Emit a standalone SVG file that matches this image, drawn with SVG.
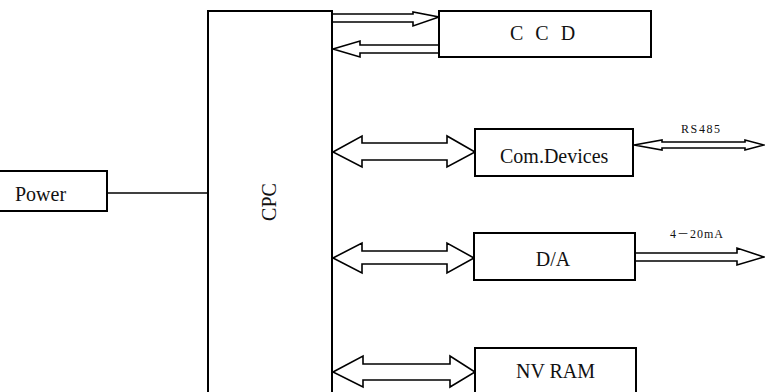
<svg xmlns="http://www.w3.org/2000/svg" width="765" height="392" viewBox="0 0 765 392">
<style>
.box{fill:#fff;stroke:#000;stroke-width:2}
.arr{fill:#fff;stroke:#000;stroke-width:1.6;stroke-linejoin:miter}
.ln{fill:none;stroke:#000;stroke-width:1.6}
.t{font-family:"Liberation Serif","Times New Roman",serif;font-size:20px;fill:#111}
.s{font-family:"Liberation Serif","Noto Sans CJK SC",serif;font-size:12px;fill:#111}
</style>
<rect width="765" height="392" fill="#fff"/>
<g id="connectors">
<line class="ln" x1="107" y1="193" x2="208" y2="193"/>
<path class="arr" d="M332,14 H413 V12 L439,17 L413,26 V22 H332"/>
<path class="arr" d="M439,45 H360 V41 L333,49 L360,57 V53 H439"/>
<path class="arr" d="M333,152 L362,136 V143 H447 V136 L475,152 L447,167 V160 H362 V167 Z"/>
<path class="arr" d="M333,258 L362,243 V251 H447 V243 L474,258 L447,273 V264 H362 V273 Z"/>
<path class="arr" d="M333,372 L363,356 V364 H450 V356 L475,372 L450,387 V380 H363 V387 Z"/>
<path class="arr" d="M634,145 L662,140 V142 H745 V140 L764,145 L745,150 V148 H662 V150 Z"/>
<path class="arr" d="M635,253 H737 V248 L764,257 L737,265 V261 H635"/>
<text class="s" x="681" y="133" font-size="12.5" letter-spacing="1.6">RS485</text>
<text class="s" x="670" y="238" font-size="13" letter-spacing="1">4－20mA</text>
</g>
<g id="cpc">
<rect class="box" x="208" y="11" width="124" height="400"/>
<text class="t" transform="translate(276,202) rotate(-90)" text-anchor="middle">CPC</text>
</g>
<g id="power">
<path class="box" d="M-2,171 H107 V211 H-2"/>
<text class="t" x="15" y="201">Power</text>
</g>
<g id="ccd">
<rect class="box" x="439" y="11" width="212" height="46"/>
<text class="t" x="510" y="40" font-size="18" letter-spacing="3.5" fill="#333">C C D</text>
</g>
<g id="com">
<rect class="box" x="475" y="129" width="158" height="47"/>
<text class="t" x="500" y="163">Com.Devices</text>
</g>
<g id="da">
<rect class="box" x="474" y="233" width="161" height="47"/>
<text class="t" x="553" y="266" text-anchor="middle">D/A</text>
</g>
<g id="nvram">
<rect class="box" x="475" y="348" width="161" height="60"/>
<text class="t" x="516" y="378">NV RAM</text>
</g>
</svg>
